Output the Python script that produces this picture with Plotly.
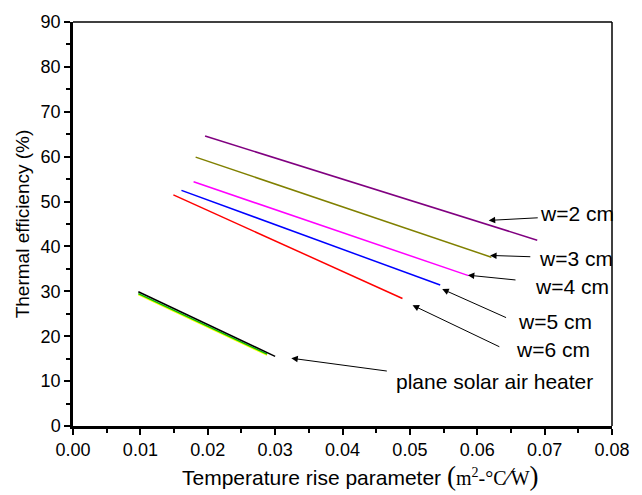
import plotly.graph_objects as go

# ---- data ----
w2_x = [0.0196, 0.0689]
w2_y = [64.6, 41.4]
w3_x = [0.0182, 0.0621]
w3_y = [59.9, 37.6]
w4_x = [0.0179, 0.0587]
w4_y = [54.4, 33.5]
w5_x = [0.0161, 0.0545]
w5_y = [52.5, 31.4]
w6_x = [0.0149, 0.0489]
w6_y = [51.5, 28.4]
plane_yellow_x = [0.0097, 0.0288]
plane_yellow_y = [29.3, 15.8]
plane_green_x = [0.0097, 0.0288]
plane_green_y = [29.5, 16.0]
plane_black_x = [0.0097, 0.0300]
plane_black_y = [29.9, 15.5]

series = [
    (w2_x, w2_y, "#800080"),
    (w3_x, w3_y, "#808000"),
    (w4_x, w4_y, "#FF00FF"),
    (w5_x, w5_y, "#0000FF"),
    (w6_x, w6_y, "#FF0000"),
    (plane_yellow_x, plane_yellow_y, "#FFFF00"),
    (plane_green_x, plane_green_y, "#00C000"),
    (plane_black_x, plane_black_y, "#000000"),
]

labels = ["w=2 cm", "w=3 cm", "w=4 cm", "w=5 cm", "w=6 cm", "plane solar air heater"]
label_x = [0.0690, 0.0689, 0.0683, 0.0657, 0.0655, 0.0476]
label_y = [47.3, 37.4, 31.0, 23.2, 17.0, 10.0]
arrow_tail_x = [0.0692, 0.0681, 0.0659, 0.0645, 0.0635, 0.0468]
arrow_tail_y = [46.4, 37.7, 32.5, 24.0, 17.5, 12.2]
arrow_head_x = [0.0617, 0.0619, 0.0586, 0.0548, 0.0504, 0.0324]
arrow_head_y = [45.8, 38.0, 33.6, 30.5, 26.9, 15.1]

FONT = "Liberation Sans, Arial, sans-serif"

fig = go.Figure()
for xs, ys, c in series:
    fig.add_trace(go.Scatter(x=xs, y=ys, mode="lines",
                             line=dict(color=c, width=1.5), showlegend=False))

anns = []
for i, t in enumerate(labels):
    anns.append(dict(x=label_x[i], y=label_y[i], xref="x", yref="y", text=t,
                     showarrow=False, xanchor="left", yanchor="middle",
                     font=dict(family=FONT, size=21, color="black")))
    anns.append(dict(x=arrow_head_x[i], y=arrow_head_y[i], xref="x", yref="y",
                     ax=arrow_tail_x[i], ay=arrow_tail_y[i], axref="x", ayref="y",
                     text="", showarrow=True, arrowhead=2, arrowsize=1.3,
                     arrowwidth=1, arrowcolor="black", standoff=0))

# x-axis title with units
anns.append(dict(
    x=0.533, y=-0.124, xref="paper", yref="paper", xanchor="center", yanchor="middle",
    showarrow=False,
    text=('Temperature rise parameter '
          '<span style="font-family:Liberation Serif; font-size:27px">(</span>'
          '<span style="font-family:Liberation Serif; font-size:20px">m<sup>2</sup>-°C'
          '<span style="font-size:25px">⁄</span>W</span>'
          '<span style="font-family:Liberation Serif; font-size:27px">)</span>'),
    font=dict(family=FONT, size=21, color="black")))

fig.update_layout(
    width=642, height=495,
    margin=dict(l=73, r=19, t=19, b=69),
    plot_bgcolor="white", paper_bgcolor="white",
    font=dict(family=FONT, size=18, color="black"),
    annotations=anns,
    xaxis=dict(range=[0, 0.08], tick0=0, dtick=0.01, tickformat=".2f",
               showgrid=False, zeroline=False, showline=True, linewidth=2.5,
               linecolor="black", ticks="outside", ticklen=6, tickwidth=1.5,
               tickcolor="black", tickfont=dict(size=18),
               minor=dict(dtick=0.005, ticks="outside", ticklen=4, tickwidth=1.5,
                          tickcolor="black")),
    yaxis=dict(range=[0, 90], tick0=0, dtick=10, showgrid=False, zeroline=False,
               showline=True, linewidth=2.5, linecolor="black", ticks="outside",
               ticklen=6, tickwidth=1.5, tickcolor="black", tickfont=dict(size=18),
               title=dict(text="Thermal efficiency (%)", font=dict(size=19), standoff=6),
               minor=dict(dtick=5, ticks="outside", ticklen=4, tickwidth=1.5,
                          tickcolor="black")),
    shapes=[
        dict(type="line", xref="paper", yref="paper", x0=0, x1=1, y0=1, y1=1,
             line=dict(color="black", width=1.5)),
        dict(type="line", xref="paper", yref="paper", x0=1, x1=1, y0=0, y1=1,
             line=dict(color="black", width=1.5)),
    ],
)

fig.write_html("out.html")
